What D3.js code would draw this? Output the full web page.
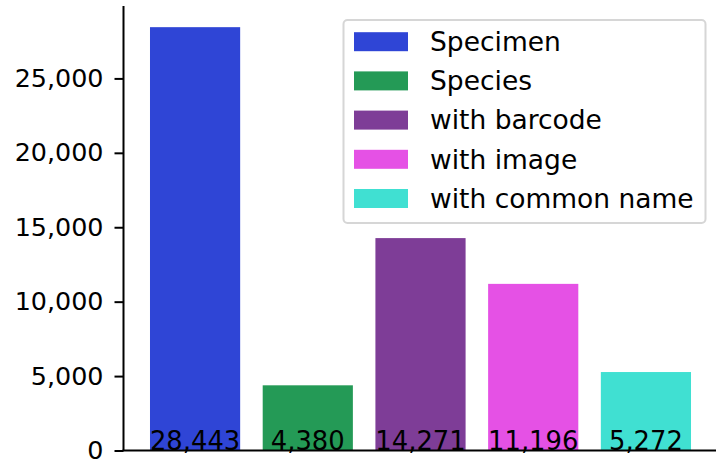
<!DOCTYPE html>
<html>
<head>
<meta charset="utf-8">
<script src="https://cdn.jsdelivr.net/npm/d3@7"></script>
<style>
  body { margin: 0; background: #fff; }
  svg text { font-family: "DejaVu Sans", sans-serif; }
</style>
</head>
<body>
<div id="chart"></div>
<script>
const categories = ["Specimen", "Species", "with barcode", "with image", "with common name"];
const counts = [28443, 4380, 14271, 11196, 5272];
const colors = ["#2f45d6", "#249a56", "#7e3d97", "#e551e5", "#40e0d2"];
const yTicks = [0, 5000, 10000, 15000, 20000, 25000];

const W = 716, H = 462;

const svg = d3.select("#chart")
  .append("svg")
  .attr("width", W)
  .attr("height", H);

const x = d3.scaleBand()
  .domain(categories)
  .range([123.5, 717.5])
  .paddingInner(0.2)
  .paddingOuter(0.235);

const y = d3.scaleLinear()
  .domain([0, d3.max(counts) * 1.05])
  .range([450.5, 6]);

const fmt = d3.format(",");

// bars
svg.selectAll("rect.bar")
  .data(categories)
  .join("rect")
  .attr("class", "bar")
  .attr("x", d => x(d))
  .attr("width", x.bandwidth())
  .attr("y", (d, i) => y(counts[i]))
  .attr("height", (d, i) => y(0) - y(counts[i]))
  .attr("fill", (d, i) => colors[i]);

// value labels at the bottom of each bar
svg.selectAll("text.val")
  .data(categories)
  .join("text")
  .attr("class", "val")
  .attr("x", d => x(d) + x.bandwidth() / 2)
  .attr("y", y(0) - 1)
  .attr("text-anchor", "middle")
  .attr("font-size", 25.8)
  .attr("fill", "#000")
  .text((d, i) => fmt(counts[i]));

// y axis
const yAxis = svg.append("g")
  .attr("transform", "translate(123.5,0)")
  .call(d3.axisLeft(y).tickValues(yTicks).tickFormat(fmt).tickSize(9).tickPadding(11));
yAxis.select(".domain").attr("stroke-width", 2).attr("d", `M0,${y.range()[1]}V${y(0)}`);
yAxis.selectAll(".tick line").attr("stroke-width", 2);
yAxis.selectAll(".tick text")
  .attr("font-size", 25.4)
  .attr("font-family", "DejaVu Sans")
  .attr("fill", "#000");

// bottom spine
svg.append("line")
  .attr("x1", 122.5).attr("x2", W)
  .attr("y1", y(0)).attr("y2", y(0))
  .attr("stroke", "#000")
  .attr("stroke-width", 2);

// legend
const legend = svg.append("g");
legend.append("rect")
  .attr("x", 343.5).attr("y", 20)
  .attr("width", 362).attr("height", 203)
  .attr("rx", 4)
  .attr("fill", "#fff")
  .attr("fill-opacity", 0.8)
  .attr("stroke", "#d6d6d6")
  .attr("stroke-width", 2);

const rowStep = 39.2;
const rows = legend.selectAll("g.row")
  .data(categories)
  .join("g")
  .attr("class", "row")
  .attr("transform", (d, i) => `translate(0,${41.7 + i * rowStep})`);

rows.append("rect")
  .attr("x", 354).attr("y", -9.5)
  .attr("width", 54).attr("height", 19)
  .attr("fill", (d, i) => colors[i]);

rows.append("text")
  .attr("x", 430)
  .attr("y", 0)
  .attr("dy", "0.35em")
  .attr("font-size", 26.5)
  .attr("fill", "#000")
  .text(d => d);
</script>
</body>
</html>
